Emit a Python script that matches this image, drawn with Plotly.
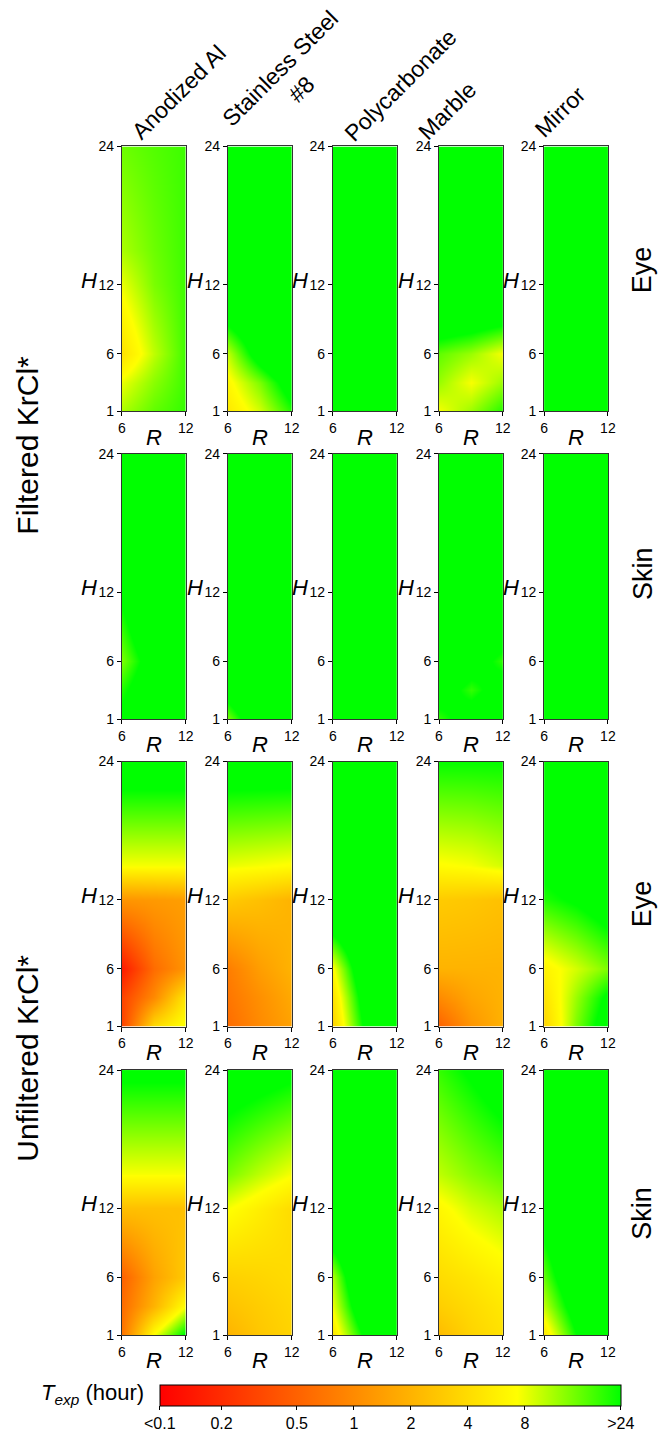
import numpy as np
import plotly.graph_objects as go

# ---------------- data ----------------
materials = ["Anodized Al", "Stainless Steel<br>#8", "Polycarbonate", "Marble", "Mirror"]
R_vals = [6, 9, 12]                 # x grid (R)
H_vals = [1, 3.5, 6, 12, 15, 24]    # y grid (H)
row_labels = ["Eye", "Skin", "Eye", "Skin"]
group_labels = ["Filtered KrCl*", "Unfiltered KrCl*"]

# T_exp in hours; rows follow H_vals, columns follow R_vals
filtered_eye = [
    [[11, 16, 20], [8, 13, 19], [4.5, 10, 19], [8, 14, 19], [11, 15, 19], [15, 17, 19]],
    [[5, 9, 22], [6.5, 14, 40], [10, 40, 100], [100, 100, 100], [100, 100, 100], [100, 100, 100]],
    [[100, 100, 100], [100, 100, 100], [100, 100, 100], [100, 100, 100], [100, 100, 100], [100, 100, 100]],
    [[7.5, 12, 22], [12, 7.5, 12], [16, 12, 7.5], [150, 150, 150], [150, 150, 150], [150, 150, 150]],
    [[100, 100, 100], [100, 100, 100], [100, 100, 100], [100, 100, 100], [100, 100, 100], [100, 100, 100]],
]
filtered_skin = [
    [[30, 60, 100], [22, 50, 100], [14, 40, 100], [30, 100, 100], [60, 100, 100], [100, 100, 100]],
    [[14, 60, 100], [40, 100, 100], [100, 100, 100], [100, 100, 100], [100, 100, 100], [100, 100, 100]],
    [[100, 100, 100], [100, 100, 100], [100, 100, 100], [100, 100, 100], [100, 100, 100], [100, 100, 100]],
    [[20, 40, 60], [40, 20, 40], [60, 40, 20], [100, 100, 100], [100, 100, 100], [100, 100, 100]],
    [[100, 100, 100], [100, 100, 100], [100, 100, 100], [100, 100, 100], [100, 100, 100], [100, 100, 100]],
]
unfiltered_eye = [
    [[0.3, 4, 8], [0.3, 1.0, 5], [0.15, 0.6, 1.2], [1.2, 1.3, 1.4], [7.5, 7.5, 7.5], [40, 40, 40]],
    [[0.6, 1, 1.5], [0.7, 1.1, 1.7], [0.8, 1.4, 2], [3, 2.5, 2], [8, 7.5, 7], [40, 40, 40]],
    [[3.5, 30, 100], [4.5, 40, 100], [7, 60, 100], [100, 100, 100], [100, 100, 100], [100, 100, 100]],
    [[0.5, 1.2, 2], [1, 1.6, 2], [2, 2, 2], [3, 2.8, 2.5], [7, 7.5, 9], [25, 25, 25]],
    [[3.5, 14, 40], [4.5, 12, 30], [6, 9, 14], [22, 28, 40], [30, 40, 60], [100, 100, 100]],
]
unfiltered_skin = [
    [[0.7, 7.5, 30], [0.6, 2, 7.5], [0.5, 1.5, 3], [2.5, 2.5, 2.5], [7.5, 7.5, 7.5], [30, 30, 30]],
    [[2, 2.8, 3.5], [2.6, 3.1, 3.7], [3.3, 3.6, 4], [7.5, 5.5, 4], [14, 10, 7.5], [40, 35, 30]],
    [[5, 30, 100], [8, 60, 100], [11, 100, 100], [100, 100, 100], [100, 100, 100], [100, 100, 100]],
    [[2.3, 3.5, 4.5], [3.2, 4, 5], [4, 4.8, 6], [6.5, 9, 11], [10, 13, 16], [20, 28, 40]],
    [[5, 25, 100], [10, 40, 100], [16, 60, 100], [40, 100, 100], [100, 100, 100], [100, 100, 100]],
]
rows_data = [filtered_eye, filtered_skin, unfiltered_eye, unfiltered_skin]

cbar_ticks = [0.1, 0.2, 0.5, 1, 2, 4, 8, 24]
cbar_ticktext = ["<0.1", "0.2", "0.5", "1", "2", "4", "8", ">24"]

# ---------------- layout geometry (pixels) ----------------
W, Hpx = 665, 1440
col_x0 = [120, 228, 335, 443, 550]
col_w = 65
row_y0 = [140, 451, 762, 1074]
row_h = 268
row_label_y = [265, 572, 906, 1219]
group_label_y = [442, 1062]

def px_x(p):
    return p / W

def px_y(p):
    return 1 - p / Hpx

FONT = "Liberation Sans, Arial, sans-serif"

fig = go.Figure()
annotations = []
layout_axes = {}

cmin, cmax = -1.025, 1.409

k = 0
for r in range(4):
    for c in range(5):
        k += 1
        xname = "x" if k == 1 else f"x{k}"
        yname = "y" if k == 1 else f"y{k}"
        xa_key = "xaxis" if k == 1 else f"xaxis{k}"
        ya_key = "yaxis" if k == 1 else f"yaxis{k}"
        z = np.log10(np.array(rows_data[r][c], dtype=float))
        fig.add_trace(go.Heatmap(
            x=R_vals, y=H_vals, z=z, zsmooth="best",
            coloraxis="coloraxis", xaxis=xname, yaxis=yname,
            hoverinfo="skip",
        ))
        x0 = col_x0[c]
        y0 = row_y0[r]
        layout_axes[xa_key] = dict(
            domain=[px_x(x0), px_x(x0 + col_w)], anchor=yname,
            range=[6, 12], tickvals=[6, 12], ticktext=["6", "12"],
            ticks="outside", ticklen=4, tickcolor="#000",
            showline=True, linecolor="#333", linewidth=1, mirror=True,
            showgrid=False, zeroline=False,
            tickfont=dict(family=FONT, size=14, color="#000"),
        )
        layout_axes[ya_key] = dict(
            domain=[px_y(y0 + row_h), px_y(y0)], anchor=xname,
            range=[1, 24], tickvals=[1, 6, 12, 24],
            ticks="outside", ticklen=4, tickcolor="#000",
            showline=True, linecolor="#333", linewidth=1, mirror=True,
            showgrid=False, zeroline=False,
            tickfont=dict(family=FONT, size=14, color="#000"),
        )
        annotations.append(dict(
            text="<i>H</i>", xref="paper", yref=yname, x=px_x(x0 - 23), y=12.4,
            xanchor="right", yanchor="middle", showarrow=False,
            font=dict(family=FONT, size=22, color="#000"),
        ))
        annotations.append(dict(
            text="<i>R</i>", xref="paper", yref="paper",
            x=px_x(x0 + col_w / 2), y=px_y(y0 + row_h + 26),
            xanchor="center", yanchor="middle", showarrow=False,
            font=dict(family=FONT, size=22, color="#000"),
        ))

# column titles
title_centers = [(178, 85), (292, 72), (404, 78), (451, 104), (566, 105)]
for name, (cx, cy) in zip(materials, title_centers):
    annotations.append(dict(
        text=name, xref="paper", yref="paper", x=px_x(cx), y=px_y(cy),
        xanchor="center", yanchor="middle", textangle=-45, showarrow=False,
        font=dict(family=FONT, size=23, color="#000"),
    ))

for r, lab in enumerate(row_labels):
    annotations.append(dict(
        text=lab, xref="paper", yref="paper", x=px_x(650),
        y=px_y(row_label_y[r]), xanchor="center", yanchor="middle",
        textangle=-90, showarrow=False,
        font=dict(family=FONT, size=27, color="#000"),
    ))

for g, lab in enumerate(group_labels):
    annotations.append(dict(
        text=lab, xref="paper", yref="paper", x=px_x(24),
        y=px_y(group_label_y[g]), xanchor="center", yanchor="middle",
        textangle=-90, showarrow=False,
        font=dict(family=FONT, size=30, color="#000"),
    ))

annotations.append(dict(
    text="<i>T<sub>exp</sub></i> (hour)", xref="paper", yref="paper",
    x=px_x(145), y=px_y(1402), xanchor="right", yanchor="middle", showarrow=False,
    font=dict(family=FONT, size=22, color="#000"),
))

bar_x0, bar_x1 = 162.7, 624
fig.update_layout(
    width=W, height=Hpx,
    margin=dict(l=0, r=0, t=0, b=0),
    paper_bgcolor="white", plot_bgcolor="white",
    showlegend=False,
    annotations=annotations,
    coloraxis=dict(
        cmin=cmin, cmax=cmax,
        colorscale=[[0, "#ff0000"], [0.775, "#ffff00"], [1, "#00ff00"]],
        colorbar=dict(
            orientation="h", x=px_x((bar_x0 + bar_x1) / 2), xanchor="center",
            y=px_y(1392), yanchor="top", lenmode="pixels", len=bar_x1 - bar_x0,
            thicknessmode="pixels", thickness=21, outlinewidth=1, outlinecolor="#000",
            xpad=0, ypad=0,
            tickvals=[cmin] + list(np.log10(cbar_ticks[1:-1])) + [cmax],
            ticktext=cbar_ticktext, ticks="outside", ticklen=4, tickcolor="#000",
            tickfont=dict(family=FONT, size=16, color="#000"),
        ),
    ),
    **layout_axes,
)

fig.write_html("out.html")
